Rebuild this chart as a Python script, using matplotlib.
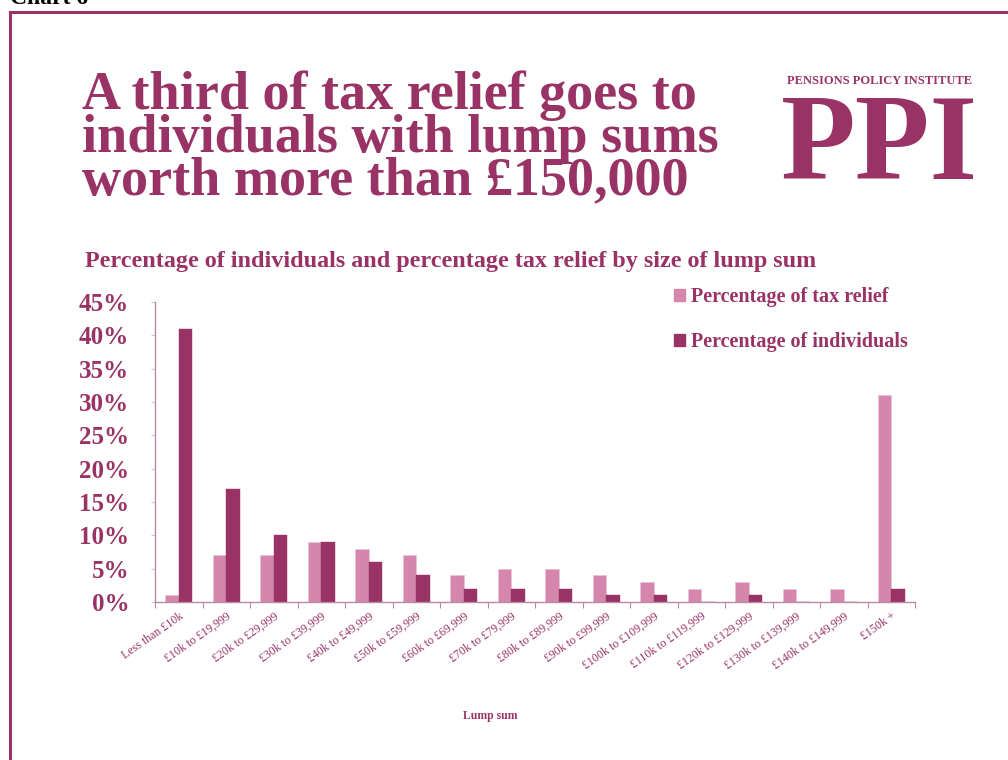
import matplotlib
matplotlib.use("Agg")
import matplotlib.pyplot as plt
from matplotlib.patches import Rectangle
from matplotlib.lines import Line2D
import numpy as np

# Lump sum bands
categories = [
    "Less than £10k", "£10k to £19,999", "£20k to £29,999", "£30k to £39,999",
    "£40k to £49,999", "£50k to £59,999", "£60k to £69,999", "£70k to £79,999",
    "£80k to £89,999", "£90k to £99,999", "£100k to £109,999", "£110k to £119,999",
    "£120k to £129,999", "£130k to £139,999", "£140k to £149,999", "£150k +",
]
tax_relief = [1, 7, 7, 9, 8, 7, 4, 5, 5, 4, 3, 2, 3, 2, 2, 31]
individuals = [41, 17, 10, 9, 6, 4, 2, 2, 2, 1, 1, 0, 1, 0, 0, 2]
y_ticks = [0, 5, 10, 15, 20, 25, 30, 35, 40, 45]
y_tick_labels = [f"{v}%" for v in y_ticks]

DARK = "#993366"
LIGHT = "#D486AC"
SPINE = "#B88AA4"
SERIF = ["Liberation Serif", "DejaVu Serif"]

W, H = 1008, 760
fig = plt.figure(figsize=(W / 100, H / 100), dpi=100)
fig.patch.set_facecolor("white")

def fx(px):
    return px / W

def fy(py):
    return 1 - py / H

# Frame around the chart
fig.add_artist(Line2D([fx(10), fx(10)], [fy(12), 0], color=DARK, lw=2.2,
                      transform=fig.transFigure))
fig.add_artist(Line2D([fx(10), 1.01], [fy(12), fy(12)], color=DARK, lw=2.2,
                      transform=fig.transFigure))
fig.text(fx(10), fy(4), "Chart 6", color="black", fontsize=17, fontweight="bold",
         family=SERIF, ha="left", va="baseline")

# Headline, set as one block of three tightly spaced lines
headline = ["A third of tax relief goes to",
            "individuals with lump sums",
            "worth more than £150,000"]
fig.text(fx(82), fy(194), "\n".join(headline), color=DARK, fontsize=39,
         fontweight="bold", family=SERIF, ha="left", va="baseline",
         linespacing=0.80)

# Logo
fig.text(fx(880), fy(84), "PENSIONS POLICY INSTITUTE", color=DARK, fontsize=9,
         fontweight="bold", family=SERIF, ha="center", va="baseline")
fig.text(fx(879), fy(179), "PPI", color=DARK, fontsize=88, fontweight="bold",
         family=SERIF, ha="center", va="baseline")

# Chart subtitle
fig.text(fx(85), fy(267), "Percentage of individuals and percentage tax relief by size of lump sum",
         color=DARK, fontsize=17.4, fontweight="bold", family=SERIF, ha="left", va="baseline")

ax = fig.add_axes([fx(155), fy(602), fx(915) - fx(155), fy(302) - fy(602)])
x = np.arange(len(categories))
bw = 0.285
ax.bar(x - bw / 2, tax_relief, width=bw, color=LIGHT, edgecolor="#E9C3D6",
       linewidth=0.6, label="Percentage of tax relief", zorder=2)
ax.bar(x + bw / 2, individuals, width=bw, color=DARK, edgecolor=DARK,
       linewidth=0.3, label="Percentage of individuals", zorder=2)

ax.set_xlim(-0.5, len(categories) - 0.5)
ax.set_ylim(0, 45)
ax.set_yticks(y_ticks)
ax.set_yticklabels(y_tick_labels, family=SERIF, fontsize=18, fontweight="bold",
                   color=DARK)
ax.tick_params(axis="y", length=3, color="#D8C4CF", pad=15.5)

ax.set_xticks(np.arange(len(categories) + 1) - 0.5)
ax.set_xticklabels([])
ax.tick_params(axis="x", which="major", length=4, color=SPINE, direction="out")
ax.set_xticks(x, minor=True)
ax.set_xticklabels(categories, minor=True, rotation=35, ha="right",
                   rotation_mode="anchor", family=SERIF, fontsize=8.6, color=DARK)
ax.tick_params(axis="x", which="minor", length=0, pad=6)

for s in ("top", "right"):
    ax.spines[s].set_visible(False)
ax.spines["left"].set_color(SPINE)
ax.spines["bottom"].set_color(SPINE)
ax.spines["left"].set_linewidth(1.0)
ax.spines["bottom"].set_linewidth(1.0)

fig.text(fx(490), fy(716), "Lump sum", family=SERIF, fontsize=8.5,
         fontweight="bold", color=DARK, ha="center", va="center")

# Legend
leg = fig.legend(handles=[Rectangle((0, 0), 1, 1, color=LIGHT),
                          Rectangle((0, 0), 1, 1, color=DARK)],
                 labels=["Percentage of tax relief", "Percentage of individuals"],
                 loc="upper left", bbox_to_anchor=(fx(656), fy(269)),
                 frameon=False, handlelength=0.55, handleheight=0.55,
                 handletextpad=0.3, labelspacing=1.25,
                 prop={"family": SERIF, "size": 14.5, "weight": "bold"})
for t in leg.get_texts():
    t.set_color(DARK)

fig.savefig("out.png", dpi=100, facecolor="white")
